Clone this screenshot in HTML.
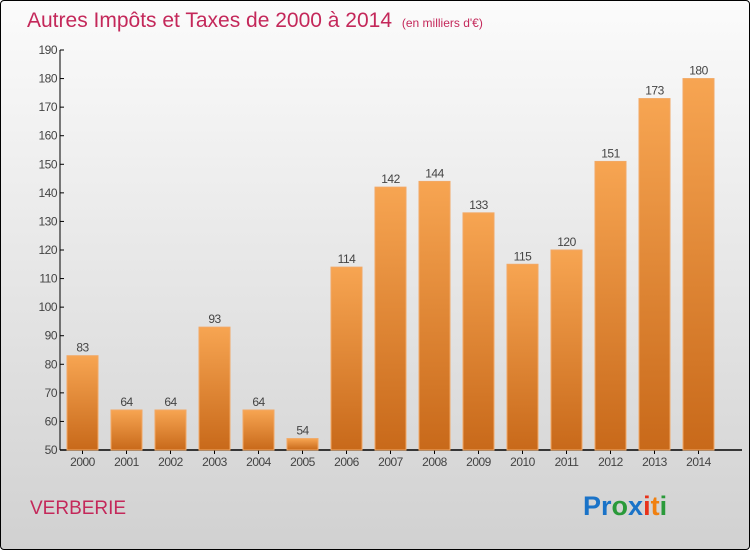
<!DOCTYPE html>
<html><head><meta charset="utf-8"><style>
html,body{margin:0;padding:0}
body{width:750px;height:550px;overflow:hidden;font-family:"Liberation Sans",sans-serif}
#frame{position:absolute;left:0;top:0;width:748px;height:548px;border:1px solid #000;border-radius:4px;background:linear-gradient(#fbfbfb,#f3f3f3 20%,#e2e2e2 60%,#d1d1d1);}
</style></head><body>
<div id="frame"></div>
<svg id="chart" width="750" height="550" style="position:absolute;left:0;top:0">
<defs><linearGradient id="bg" x1="0" y1="0" x2="0" y2="1"><stop offset="0" stop-color="#f7a552"/><stop offset="1" stop-color="#c8691a"/></linearGradient></defs>
<text x="27" y="27" font-size="21" fill="#c4285a">Autres Impôts et Taxes de 2000 à 2014 <tspan font-size="12" dx="4">(en milliers d'€)</tspan></text>
<g id="axes"></g><g id="bars"></g>
<text x="30" y="514" font-size="19" fill="#c4285a">VERBERIE</text>
<text x="583" y="515" font-size="27" font-weight="bold"><tspan fill="#1a73c8">Pr</tspan><tspan fill="#2a9a3a">o</tspan><tspan fill="#1a73c8">x</tspan><tspan fill="#e8321a">i</tspan><tspan fill="#f08010">t</tspan><tspan fill="#2a9a3a">i</tspan></text>
</svg>
<script>
const categories=["2000","2001","2002","2003","2004","2005","2006","2007","2008","2009","2010","2011","2012","2013","2014"];
const values=[83,64,64,93,64,54,114,142,144,133,115,120,151,173,180];
const ticks=[50,60,70,80,90,100,110,120,130,140,150,160,170,180,190];
const NS="http://www.w3.org/2000/svg";
const y0=450,y1=50,vmin=50,vmax=190,x0=60;
function y(v){return y0-(v-vmin)/(vmax-vmin)*(y0-y1);}
function xc(i){return 82.5+i*44;}
function mk(t,a,p,txt){const e=document.createElementNS(NS,t);for(const k in a)e.setAttribute(k,a[k]);if(txt!==undefined)e.textContent=txt;p.appendChild(e);return e;}
const ax=document.getElementById('axes'),bs=document.getElementById('bars');
let l=mk('line',{x1:x0,y1:y1,x2:x0,y2:y0,stroke:'#000'},ax);


l=mk('line',{x1:x0,y1:y0,x2:742,y2:y0,stroke:'#000','stroke-width':1.5},ax);


ticks.forEach(t=>{
 mk('line',{x1:x0,y1:y(t),x2:x0+4,y2:y(t),stroke:'#000'},ax);
 const e=mk('text',{x:x0-3,y:y(t)+4,'font-size':12,fill:'#444','text-anchor':'end','letter-spacing':'-0.5'},ax,t);
 
 
});
categories.forEach((c,i)=>{
 const v=values[i];
 const r=mk('rect',{x:xc(i)-15.5,y:y(v),width:31,height:y0-y(v),fill:'url(#bg)',stroke:'#f2a865','stroke-width':1},bs);
 
 
 mk('line',{x1:xc(i),y1:y0,x2:xc(i),y2:y0+4,stroke:'#000'},ax);
 const t=mk('text',{x:xc(i),y:y0+16,'font-size':12,fill:'#444','text-anchor':'middle','letter-spacing':'-0.5'},ax,c);
 
 
 const vl=mk('text',{x:xc(i),y:y(v)-4,'font-size':12,fill:'#444','text-anchor':'middle','letter-spacing':'-0.5'},bs,v);
 
 
});
</script>
</body></html>
